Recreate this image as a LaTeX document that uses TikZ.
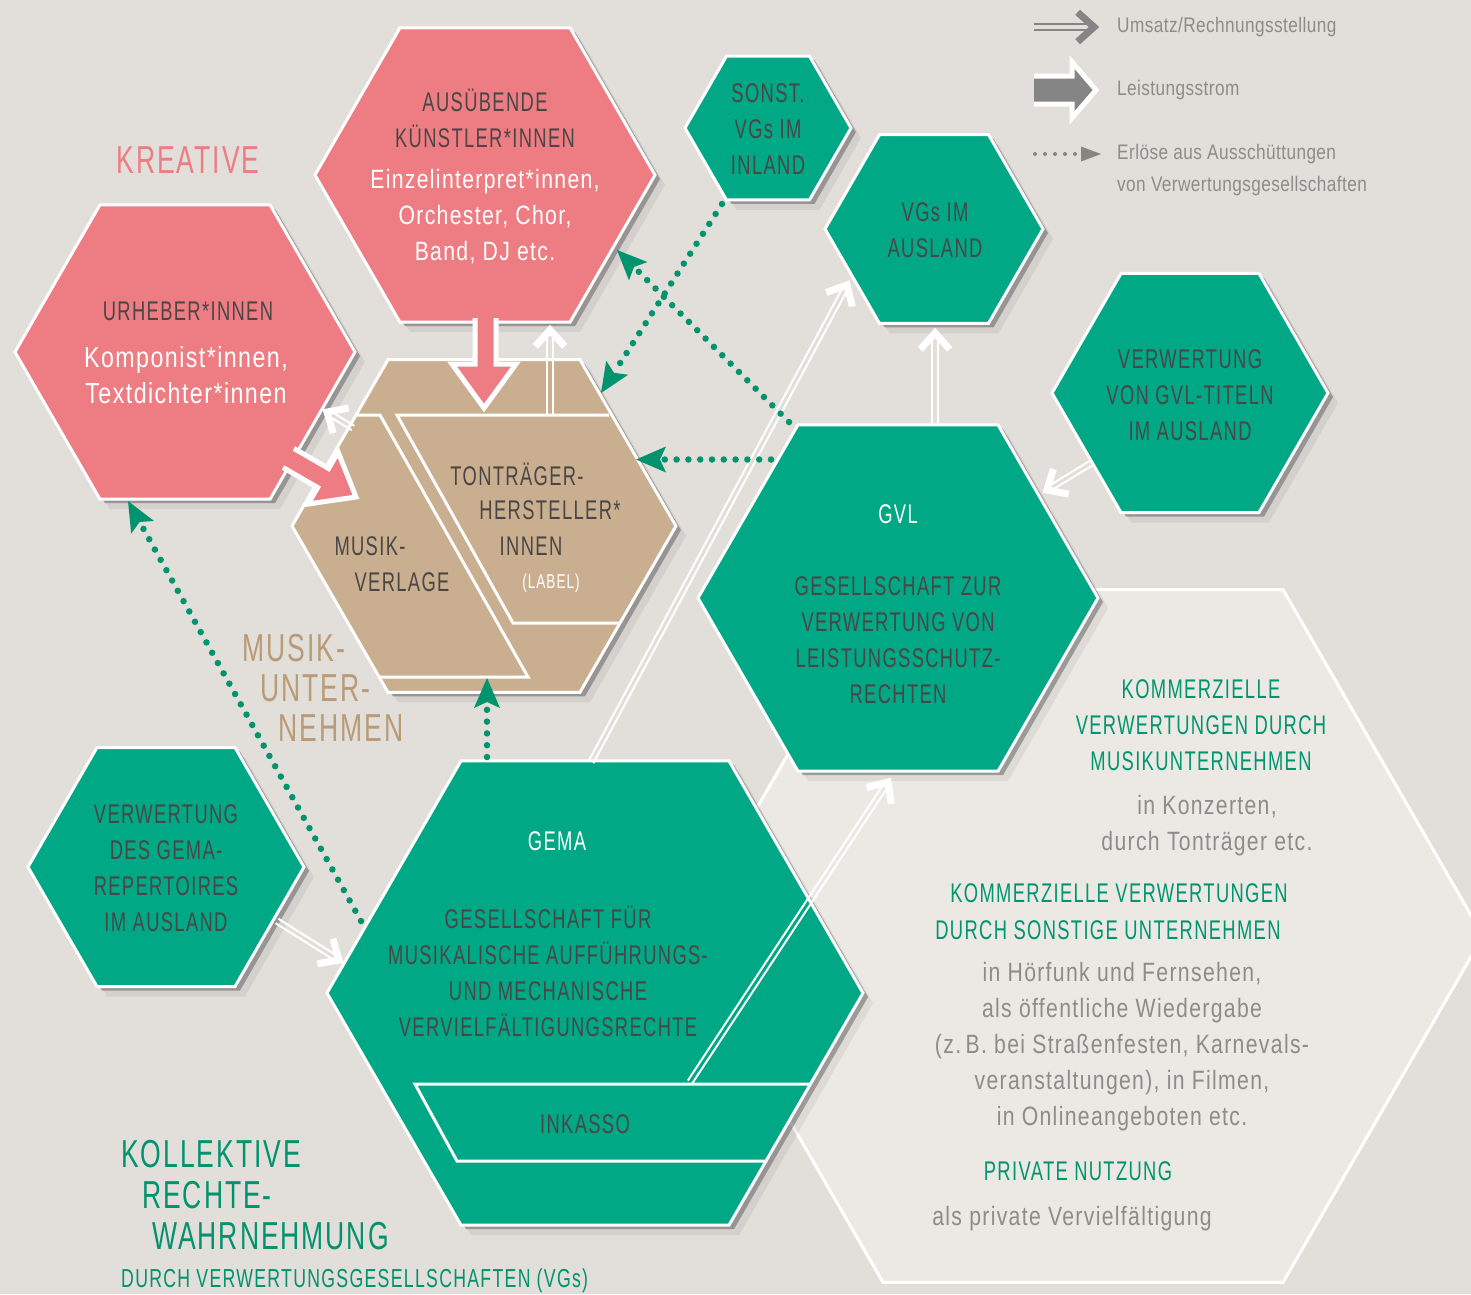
\documentclass[tikz,border=0pt]{standalone}
\usepackage{fontspec}
\setmainfont{Liberation Sans}
\newfontfamily\capf{Liberation Sans}[FakeStretch=0.68,LetterSpace=5]
\newfontfamily\txtf{Liberation Sans}[FakeStretch=0.8,LetterSpace=5]
\newfontfamily\legf{Liberation Sans}[FakeStretch=0.82,LetterSpace=2]
\usetikzlibrary{arrows.meta,calc}
\definecolor{bgc}{HTML}{E2DEDA}
\definecolor{pinkc}{HTML}{EE7D83}
\definecolor{greenc}{HTML}{00A886}
\definecolor{tanc}{HTML}{C9AF8F}
\definecolor{lightc}{HTML}{ECE9E5}
\definecolor{dtext}{HTML}{4A4646}
\definecolor{gtext}{HTML}{00956F}
\definecolor{dgreen}{HTML}{00936E}
\definecolor{ttext}{HTML}{B99B75}
\definecolor{greytext}{HTML}{8C8C8C}
\definecolor{legc}{HTML}{858585}
% hexagon path: cx cy R options
\newcommand{\hexfill}[4]{%
  \path[#4] ({#1-#3},{#2}) -- ({#1-0.5*#3},{#2-0.8660254*#3}) -- ({#1+0.5*#3},{#2-0.8660254*#3}) -- ({#1+#3},{#2}) -- ({#1+0.5*#3},{#2+0.8660254*#3}) -- ({#1-0.5*#3},{#2+0.8660254*#3}) -- cycle;}
% hexagon with shadow: name cx cy R fill
\newcommand{\myhex}[5]{%
  \hexfill{#2+10}{#3+10}{#4}{fill=black,opacity=0.06}
  \hexfill{#2+5}{#3+4}{#4}{fill=black!60,opacity=0.55}
  \hexfill{#2}{#3}{#4}{fill=#5,draw=white,line width=3pt,line join=miter}
  \coordinate (#1) at (#2,#3);}
% double line arrow with chevron head
\newcommand{\dblarrow}[3][white]{%
  \draw[#1,line width=2pt] ($(#2)!2.6pt!90:(#3)$) -- ($(#3)!2.6pt!-90:(#2)$);
  \draw[#1,line width=2pt] ($(#2)!2.6pt!-90:(#3)$) -- ($(#3)!2.6pt!90:(#2)$);
  \draw[#1,line width=7pt,line join=miter,line cap=butt] ($(#3)!22pt!42:(#2)$) -- (#3) -- ($(#3)!22pt!-42:(#2)$);}
\begin{document}
\begin{tikzpicture}[x=1pt,y=-1pt,
  capt/.style={font=\capf\fontsize{27}{36}\selectfont, text=dtext, align=center, inner sep=0pt},
  wcapt/.style={capt,text=white},
  bodyt/.style={font=\txtf\fontsize{26.5}{36}\selectfont, text=white, align=center, inner sep=0pt},
  gbody/.style={bodyt,text=greytext},
  ghead/.style={capt,text=gtext},
  bigt/.style={font=\capf\fontsize{39}{41}\selectfont, inner sep=0pt},
  legt/.style={font=\legf\fontsize{21}{32}\selectfont, text=greytext, anchor=west, inner sep=0pt},
  dotarrow/.style={draw=dgreen, line width=6.5pt, line cap=round, dash pattern=on 0pt off 11.8pt, -{Stealth[length=30pt,width=26pt,inset=6pt,line width=0pt]}},
  blockarrow/.style={fill=#1, draw=white, line width=5pt, line join=miter},
  innerline/.style={draw=white, line width=3pt}
]
\useasboundingbox (0,0) rectangle (1471,1294);
\fill[bgc] (0,0) rectangle (1471,1294);

% large light hexagon (uses)
\hexfill{1083}{936}{400}{fill=lightc,draw=white,line width=3pt}
\coordinate (light) at (1083,936);

% hexagons
\myhex{urh}{185}{352}{170}{pinkc}
\myhex{aus}{485}{175}{170}{pinkc}
\myhex{tan}{484}{526}{192}{tanc}
\myhex{son}{768}{128}{83}{greenc}
\myhex{vga}{934}{229}{109}{greenc}
\myhex{vgl}{1190}{393}{138}{greenc}
\myhex{vgem}{166}{867}{138}{greenc}
\myhex{gvl}{898}{598}{200}{greenc}
\myhex{gema}{595}{993}{268}{greenc}

% inner lines of the music companies hexagon
\draw[innerline] (356,415) -- (380,415) -- (528,677) -- (379,677);
\draw[innerline] (609,415) -- (397,415) -- (513,623) -- (620,623);
% inkasso band
\draw[innerline] (810,1084) -- (415,1084) -- (457,1161) -- (767,1161);

% pink performance arrows
\draw[blockarrow=pinkc] (475,318) -- (475,364) -- (452,364) -- (484,408) -- (516,364) -- (496,364) -- (496,318);
\draw[blockarrow=pinkc] (283,467.5) -- (317.6,487.5) -- (308.1,504) -- (356,497) -- (338.1,452) -- (328.6,468.5) -- (294,448.5);

% double line arrows (Umsatz)
\coordinate (a1) at (591,762);  \coordinate (a2) at (847,285);
\coordinate (b1) at (935,424);  \coordinate (b2) at (935,333);
\coordinate (c1) at (690,1082); \coordinate (c2) at (888,782);
\coordinate (e1) at (1093,462); \coordinate (e2) at (1047,490);
\coordinate (f1) at (277,921);  \coordinate (f2) at (339,960);
\coordinate (g1) at (550,414);  \coordinate (g2) at (550,330);
\coordinate (h1) at (353,428);  \coordinate (h2) at (327,412);
\dblarrow{a1}{a2}
\dblarrow{b1}{b2}
\dblarrow{c1}{c2}
\dblarrow{e1}{e2}
\dblarrow{f1}{f2}
\dblarrow{g1}{g2}
\dblarrow{h1}{h2}

% dotted arrows (Ausschuettungen)
\coordinate (d1s) at (722,204); \coordinate (d1e) at (601,393);
\coordinate (d2s) at (789,422); \coordinate (d2e) at (617,250);
\coordinate (d3s) at (771,459.5); \coordinate (d3e) at (636,459.5);
\coordinate (d4s) at (487,757); \coordinate (d4e) at (487,678);
\coordinate (d5s) at (361,921); \coordinate (d5e) at (128,501);
\draw[dotarrow] (d1s) -- (d1e);
\draw[dotarrow] (d2s) -- (d2e);
\draw[dotarrow] (d3s) -- (d3e);
\draw[dotarrow] (d4s) -- (d4e);
\draw[dotarrow] (d5s) -- (d5e);

% legend
\coordinate (la1) at (1034,27); \coordinate (la2) at (1094,27);
\dblarrow[legc]{la1}{la2}
\draw[blockarrow=legc] (1034,76) -- (1072,76) -- (1072,62) -- (1096,90) -- (1072,118) -- (1072,104) -- (1034,104);
\coordinate (lc1) at (1035,154); \coordinate (lc2) at (1101,154);
\draw[legc, line width=4pt, line cap=round, dash pattern=on 0pt off 10pt, -{Triangle[length=20pt,width=15pt,line width=0pt]}] (lc1) -- (lc2);
\node[legt] (lg1) at (1117,27) {Umsatz/Rechnungsstellung};
\node[legt] (lg2) at (1117,90) {Leistungsstrom};
\node[legt] (lg3) at (1117,154) {Erlöse aus Ausschüttungen};
\node[legt] (lg4) at (1117,186) {von Verwertungsgesellschaften};

% texts
\node[bigt,text=pinkc] (kreative) at (188,160) {KREATIVE};
\node[capt] (urhT) at (188,311) {URHEBER*INNEN};
\node[bodyt,font=\txtf\fontsize{29}{36}\selectfont] (urhB) at (186,375) {Komponist*innen,\\Textdichter*innen};
\node[capt] (ausT) at (485,118) {AUSÜBENDE\\KÜNSTLER*INNEN};
\node[bodyt] (ausB) at (485,217) {Einzelinterpret*innen,\\Orchester, Chor,\\Band, DJ etc.};
\node[capt] (sonT) at (768,129) {SONST.\\VGs IM\\INLAND};
\node[capt] (vgaT) at (935,230) {VGs IM\\AUSLAND};
\node[capt] (vglT) at (1190,395) {VERWERTUNG\\VON GVL-TITELN\\IM AUSLAND};
\node[capt] (ton1) at (517,474) {TONTRÄGER-};
\node[capt] (ton2) at (550,510) {HERSTELLER*};
\node[capt] (ton3) at (531,546) {INNEN};
\node[capt,text=white,font=\capf\fontsize{20}{24}\selectfont] (ton4) at (551,583) {(LABEL)};
\node[capt] (mv1) at (370,546) {MUSIK-};
\node[capt] (mv2) at (402,582) {VERLAGE};
\node[bigt,text=ttext] (mu1) at (294,648) {MUSIK-};
\node[bigt,text=ttext] (mu2) at (315,688) {UNTER-};
\node[bigt,text=ttext] (mu3) at (341,728) {NEHMEN};
\node[wcapt] (gvlT) at (898,514) {GVL};
\node[capt] (gvlB) at (898,640) {GESELLSCHAFT ZUR\\VERWERTUNG VON\\LEISTUNGSSCHUTZ-\\RECHTEN};
\node[wcapt] (gemaT) at (557,841) {GEMA};
\node[capt] (gemaB) at (548,971) {GESELLSCHAFT FÜR\\MUSIKALISCHE AUFFÜHRUNGS-\\UND MECHANISCHE\\VERVIELFÄLTIGUNGSRECHTE};
\node[capt] (inkasso) at (585,1124) {INKASSO};
\node[capt] (vgemT) at (166,868) {VERWERTUNG\\DES GEMA-\\REPERTOIRES\\IM AUSLAND};
\node[bigt,text=dgreen,anchor=west] (kol1) at (121,1154) {KOLLEKTIVE};
\node[bigt,text=dgreen,anchor=west] (kol2) at (142,1195) {RECHTE-};
\node[bigt,text=dgreen,anchor=west] (kol3) at (152,1236) {WAHRNEHMUNG};
\node[capt,text=dgreen,anchor=west,font=\capf\fontsize{26}{30}\selectfont] (kol4) at (121,1281) {DURCH VERWERTUNGSGESELLSCHAFTEN (VGs)};
\node[ghead] (hd1) at (1201,725) {KOMMERZIELLE\\VERWERTUNGEN DURCH\\MUSIKUNTERNEHMEN};
\node[gbody] (bd1) at (1207,826) {in Konzerten,\\durch Tonträger etc.};
\node[ghead] (hd2a) at (1119,893) {KOMMERZIELLE VERWERTUNGEN};
\node[ghead] (hd2b) at (1108,930) {DURCH SONSTIGE UNTERNEHMEN};
\node[gbody] (bd2) at (1122,1047) {in Hörfunk und Fernsehen,\\als öffentliche Wiedergabe\\(z.\,B. bei Straßenfesten, Karnevals-\\veranstaltungen), in Filmen,\\in Onlineangeboten etc.};
\node[ghead] (hd3) at (1078,1171) {PRIVATE NUTZUNG};
\node[gbody] (bd3) at (1072,1219) {als private Vervielfältigung};
\end{tikzpicture}
\end{document}
